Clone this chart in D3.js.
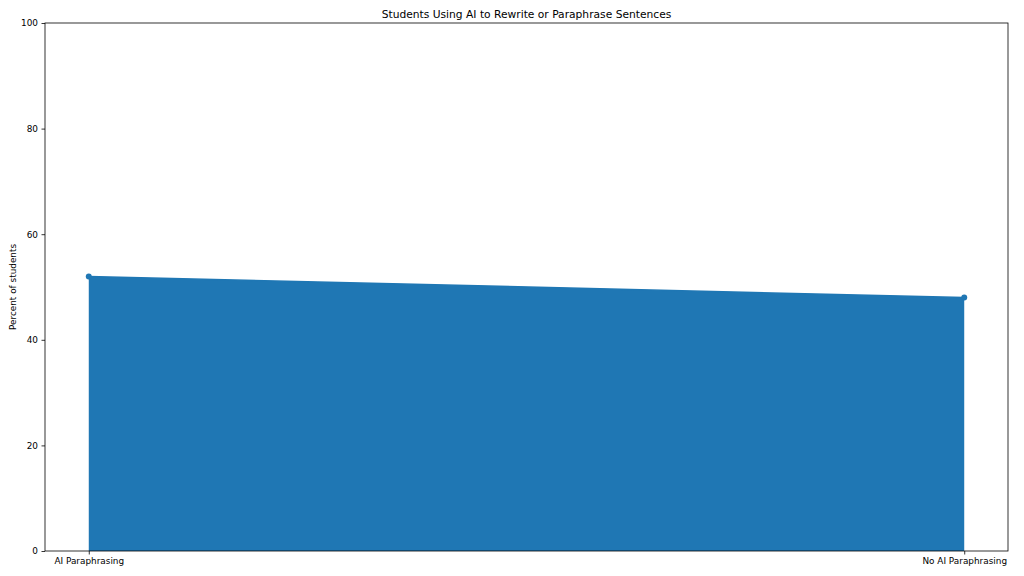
<!DOCTYPE html>
<html><head><meta charset="utf-8">
<script src="https://cdn.jsdelivr.net/npm/d3@7"></script>
<style>body{margin:0;background:#fff}svg{display:block}text{font-family:"DejaVu Sans",sans-serif;fill:#000}</style>
</head><body><svg id="c" width="1024" height="576"></svg>
<script>
const categories = ["AI Paraphrasing", "No AI Paraphrasing"];
const values = [52, 48];
const yTicks = [0, 20, 40, 60, 80, 100];
const title = "Students Using AI to Rewrite or Paraphrase Sentences";
const yLabel = "Percent of students";

const W = 1024, H = 576;
const m = {left: 45, right: 16, top: 23, bottom: 25};
const svg = d3.select("#c");
const x = d3.scalePoint().domain(categories).range([m.left, W - m.right]).padding(0.05);
const y = d3.scaleLinear().domain([0, 100]).range([H - m.bottom, m.top]);
const data = categories.map((c, i) => ({c, v: values[i]}));
const color = "#1f77b4";

svg.append("path").datum(data)
  .attr("d", d3.area().x(d => x(d.c)).y0(y(0)).y1(d => y(d.v)))
  .attr("fill", color);
svg.append("path").datum(data)
  .attr("d", d3.line().x(d => x(d.c)).y(d => y(d.v)))
  .attr("fill", "none").attr("stroke", color).attr("stroke-width", 1.5);
svg.selectAll("circle.pt").data(data).join("circle")
  .attr("cx", d => x(d.c)).attr("cy", d => y(d.v)).attr("r", 3).attr("fill", color);

const fs = "8.9px";
const yAxis = svg.append("g").attr("transform", `translate(${m.left},0)`)
  .call(d3.axisLeft(y).tickValues(yTicks).tickSize(3.5).tickPadding(3.5).tickFormat(d3.format("d")));
const xAxis = svg.append("g").attr("transform", `translate(0,${H - m.bottom})`)
  .call(d3.axisBottom(x).tickSize(3.5).tickPadding(3.5));
[yAxis, xAxis].forEach(g => {
  g.select(".domain").remove();
  g.selectAll("line").attr("stroke", "#000").attr("stroke-width", 0.8);
  g.selectAll("text").style("font-size", fs).attr("fill", "#000");
});
svg.append("rect").attr("x", m.left).attr("y", m.top)
  .attr("width", W - m.right - m.left).attr("height", H - m.bottom - m.top)
  .attr("fill", "none").attr("stroke", "#000").attr("stroke-width", 0.8);

svg.append("text").attr("x", (m.left + W - m.right) / 2).attr("y", 18)
  .attr("text-anchor", "middle").style("font-size", "10.7px").text(title);
svg.append("text").attr("transform", `translate(16,${(m.top + H - m.bottom) / 2}) rotate(-90)`)
  .attr("text-anchor", "middle").style("font-size", fs).text(yLabel);
</script></body></html>
